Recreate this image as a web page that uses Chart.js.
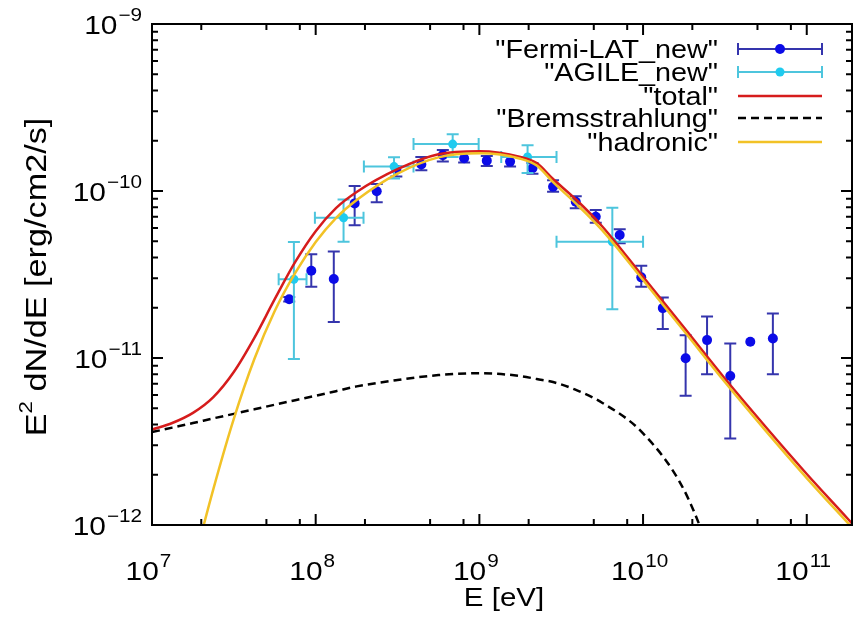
<!DOCTYPE html>
<html>
<head>
<meta charset="utf-8">
<title>SED</title>
<script src="https://cdn.jsdelivr.net/npm/chart.js@4.4.0/dist/chart.umd.min.js"></script>
<style>
  html, body { margin: 0; padding: 0; background: #fff; }
</style>
</head>
<body>
<canvas id="sed" width="857" height="619"></canvas>
<script>
// Fermi-LAT points (vertical error bars only)
const fermiE  = [6.89e7, 9.4e7, 1.29e8, 1.73e8, 2.36e8, 3.11e8, 4.42e8, 5.98e8, 8.07e8, 1.11e9, 1.54e9, 2.11e9,
                 2.82e9, 3.88e9, 5.14e9, 7.2e9, 9.75e9, 1.32e10, 1.82e10, 2.46e10, 3.41e10, 4.52e10, 6.21e10];
const fermiF  = [2.25e-11, 3.33e-11, 2.97e-11, 8.43e-11, 9.96e-11, 1.34e-10, 1.44e-10, 1.64e-10, 1.57e-10, 1.52e-10, 1.50e-10, 1.37e-10,
                 1.06e-10, 8.63e-11, 7.02e-11, 5.45e-11, 3.04e-11, 1.99e-11, 9.96e-12, 1.28e-11, 7.8e-12, 1.25e-11, 1.31e-11];
const fermiLo = [2.18e-11, 2.67e-11, 1.64e-11, 6.24e-11, 8.55e-11, 1.22e-10, 1.33e-10, 1.50e-10, 1.48e-10, 1.41e-10, 1.40e-10, 1.27e-10,
                 9.9e-11, 7.87e-11, 6.45e-11, 4.86e-11, 2.67e-11, 1.49e-11, 5.94e-12, 7.98e-12, 3.3e-12, null, 8.0e-12];
const fermiHi = [2.32e-11, 4.18e-11, 4.34e-11, 1.07e-10, 1.10e-10, 1.40e-10, 1.60e-10, 1.76e-10, 1.68e-10, 1.62e-10, 1.62e-10, 1.47e-10,
                 1.16e-10, 9.3e-11, 7.69e-11, 5.9e-11, 3.57e-11, 2.3e-11, 1.37e-11, 1.77e-11, 1.22e-11, null, 1.85e-11];

// AGILE points (x and y error bars)
const agileE   = [7.36e7, 1.48e8, 3.01e8, 6.87e8, 1.97e9, 6.49e9];
const agileF   = [2.96e-11, 6.92e-11, 1.40e-10, 1.91e-10, 1.60e-10, 4.97e-11];
const agileElo = [5.94e7, 9.89e7, 1.97e8, 3.96e8, 1.36e9, 2.96e9];
const agileEhi = [8.79e7, 1.96e8, 3.96e8, 9.9e8, 2.96e9, 1.0e10];
const agileFlo = [9.86e-12, 4.97e-11, 1.19e-10, 1.6e-10, 1.28e-10, 1.96e-11];
const agileFhi = [4.95e-11, 8.9e-11, 1.59e-10, 2.19e-10, 1.88e-10, 7.94e-11];

// model curves, sampled on one energy grid
const modelE = [1.0e7, 1.33e7, 1.78e7, 2.37e7, 3.16e7, 4.22e7, 5.62e7, 7.5e7, 1.0e8, 1.33e8, 1.78e8, 3.16e8, 5.62e8,
                1.0e9, 1.78e9, 2.24e9, 2.82e9, 3.98e9, 5.62e9, 1.0e10, 1.78e10, 3.16e10, 5.62e10, 1.0e11, 1.78e11, 2.0e11];
const total  = [3.73e-12, 4.08e-12, 4.69e-12, 5.83e-12, 8.24e-12, 1.32e-11, 2.25e-11, 3.76e-11, 5.75e-11, 7.9e-11, 9.86e-11, 1.35e-10, 1.66e-10,
                1.73e-10, 1.60e-10, 1.47e-10, 1.18e-10, 8.71e-11, 6.15e-11, 3.06e-11, 1.52e-11, 7.53e-12, 3.86e-12, 2.02e-12, 1.09e-12, 9.6e-13];
const brems  = [3.6e-12, 3.83e-12, 4.08e-12, 4.35e-12, 4.63e-12, 4.93e-12, 5.25e-12, 5.59e-12, 5.94e-12, 6.33e-12, 6.76e-12, 7.38e-12, 7.9e-12,
                8.1e-12, 7.8e-12, 7.48e-12, 7.18e-12, 6.38e-12, 5.4e-12, 3.54e-12, 1.62e-12, 4.0e-13, null, null, null, null];
const hadron = [null, null, 5.68e-13, 1.64e-12, 4.32e-12, 9.86e-12, 1.91e-11, 3.23e-11, 4.95e-11, 6.89e-11, 8.83e-11, 1.27e-10, 1.59e-10,
                1.68e-10, 1.56e-10, 1.42e-10, 1.13e-10, 8.24e-11, 5.83e-11, 2.93e-11, 1.45e-11, 7.18e-12, 3.66e-12, 1.91e-12, 1.03e-12, 9.1e-13];

// axis ticks (powers of ten)
const xExps = [7, 8, 9, 10, 11];
const yExps = [-12, -11, -10, -9];
const xMinor = [2, 5, 8];
const yMinor = [2, 3, 4, 5, 6, 7, 8, 9];

const FERMI_BAR = '#3535ad', FERMI_PT = '#0b0be8';
const AGILE_BAR = '#4dc5dd', AGILE_PT = '#1fcbef';
const RED = '#d61c1c', YELLOW = '#f2c226', BLACK = '#000';
const FONT = '"Liberation Sans", Arial, sans-serif';
const SX = 1.15; // text is a bit wide in the original

const pts = (xs, ys) => xs.map((x, i) => ({ x, y: ys[i] })).filter(p => p.y !== null);

function text(ctx, s, x, y, align, sx = SX) {
  ctx.save();
  ctx.translate(x, y);
  ctx.scale(sx, 1);
  ctx.textAlign = align;
  ctx.fillText(s, 0, 0);
  ctx.restore();
}

function pow10(ctx, exp, x, y, align) {
  const e = String(exp).replace('-', '\u2212');
  ctx.font = '26px ' + FONT;
  const w1 = ctx.measureText('10').width * SX;
  ctx.font = '18px ' + FONT;
  const w2 = ctx.measureText(e).width * SX;
  let x0 = align === 'center' ? x - (w1 + w2) / 2 - 4 : x - w1 - w2;
  ctx.font = '26px ' + FONT;
  text(ctx, '10', x0, y, 'left');
  ctx.font = '18px ' + FONT;
  text(ctx, e, x0 + w1 + 1, y - 13, 'left');
}

function capV(ctx, x, y, h) { ctx.moveTo(x - h, y); ctx.lineTo(x + h, y); }
function capH(ctx, x, y, h) { ctx.moveTo(x, y - h); ctx.lineTo(x, y + h); }

const decor = {
  id: 'decor',
  beforeDatasetDraw(chart, args) {
    const { ctx, scales: { x, y } } = chart;
    ctx.save();
    ctx.lineWidth = 2;
    if (args.index === 0) {
      ctx.strokeStyle = FERMI_BAR;
      ctx.beginPath();
      fermiE.forEach((e, i) => {
        if (fermiLo[i] === null) return;
        const px = x.getPixelForValue(e);
        const y1 = y.getPixelForValue(fermiLo[i]), y2 = y.getPixelForValue(fermiHi[i]);
        ctx.moveTo(px, y1); ctx.lineTo(px, y2);
        capV(ctx, px, y1, 6); capV(ctx, px, y2, 6);
      });
      ctx.stroke();
    }
    if (args.index === 1) {
      ctx.strokeStyle = AGILE_BAR;
      ctx.beginPath();
      agileE.forEach((e, i) => {
        const px = x.getPixelForValue(e), py = y.getPixelForValue(agileF[i]);
        const x1 = x.getPixelForValue(agileElo[i]), x2 = x.getPixelForValue(agileEhi[i]);
        const y1 = y.getPixelForValue(agileFlo[i]), y2 = y.getPixelForValue(agileFhi[i]);
        ctx.moveTo(px, y1); ctx.lineTo(px, y2);
        capV(ctx, px, y1, 6); capV(ctx, px, y2, 6);
        ctx.moveTo(x1, py); ctx.lineTo(x2, py);
        capH(ctx, x1, py, 6); capH(ctx, x2, py, 6);
      });
      ctx.stroke();
    }
    ctx.restore();
  },
  afterDraw(chart) {
    const { ctx, chartArea: a, scales: { x, y } } = chart;
    ctx.save();
    ctx.strokeStyle = BLACK;
    ctx.fillStyle = BLACK;
    ctx.lineWidth = 2;
    ctx.strokeRect(a.left, a.top, a.right - a.left, a.bottom - a.top);

    // ticks on all four sides, pointing inwards
    ctx.beginPath();
    xExps.forEach(d => {
      const px = x.getPixelForValue(Math.pow(10, d));
      if (px <= a.right) {
        ctx.moveTo(px, a.bottom); ctx.lineTo(px, a.bottom - 11);
        ctx.moveTo(px, a.top); ctx.lineTo(px, a.top + 11);
      }
      xMinor.forEach(m => {
        const qx = x.getPixelForValue(m * Math.pow(10, d));
        if (qx >= a.right) return;
        ctx.moveTo(qx, a.bottom); ctx.lineTo(qx, a.bottom - 6);
        ctx.moveTo(qx, a.top); ctx.lineTo(qx, a.top + 6);
      });
    });
    yExps.forEach(d => {
      const py = y.getPixelForValue(Math.pow(10, d));
      ctx.moveTo(a.left, py); ctx.lineTo(a.left + 11, py);
      ctx.moveTo(a.right, py); ctx.lineTo(a.right - 11, py);
      if (d === -9) return;
      yMinor.forEach(m => {
        const qy = y.getPixelForValue(m * Math.pow(10, d));
        ctx.moveTo(a.left, qy); ctx.lineTo(a.left + 6, qy);
        ctx.moveTo(a.right, qy); ctx.lineTo(a.right - 6, qy);
      });
    });
    ctx.stroke();

    // tick labels
    ctx.textBaseline = 'alphabetic';
    xExps.forEach(d => pow10(ctx, d, x.getPixelForValue(Math.pow(10, d)), a.bottom + 55, 'center'));
    yExps.forEach(d => pow10(ctx, d, 141, y.getPixelForValue(Math.pow(10, d)) + 10, 'right'));

    // axis titles
    ctx.font = '25px ' + FONT;
    text(ctx, 'E [eV]', 504, 606, 'center', 1.18);
    ctx.save();
    ctx.translate(46, 277);
    ctx.rotate(-Math.PI / 2);
    const ysx = 1.18;
    ctx.font = '29px ' + FONT;
    const wE = ctx.measureText('E').width * ysx;
    const rest = ' dN/dE [erg/cm2/s]';
    const wR = ctx.measureText(rest).width * ysx;
    ctx.font = '19px ' + FONT;
    const w2 = ctx.measureText('2').width * ysx;
    const x0 = -(wE + w2 + wR) / 2;
    ctx.font = '29px ' + FONT;
    text(ctx, 'E', x0, 0, 'left', ysx);
    text(ctx, rest, x0 + wE + w2, 0, 'left', ysx);
    ctx.font = '19px ' + FONT;
    text(ctx, '2', x0 + wE, -14, 'left', ysx);
    ctx.restore();

    // key
    const kx1 = 738, kx2 = 822, kc = 780, tx = 718;
    const rows = [49, 72, 96, 118, 142];
    const names = ['"Fermi-LAT_new"', '"AGILE_new"', '"total"', '"Bremsstrahlung"', '"hadronic"'];
    ctx.font = '25px ' + FONT;
    ctx.fillStyle = BLACK;
    names.forEach((n, i) => text(ctx, n, tx, rows[i] + 9, 'right'));

    [[FERMI_BAR, FERMI_PT, rows[0], 5], [AGILE_BAR, AGILE_PT, rows[1], 4.5]].forEach(([bar, pt, ky, r]) => {
      ctx.strokeStyle = bar;
      ctx.lineWidth = 2;
      ctx.beginPath();
      ctx.moveTo(kx1, ky); ctx.lineTo(kx2, ky);
      capH(ctx, kx1, ky, 6); capH(ctx, kx2, ky, 6);
      ctx.stroke();
      ctx.fillStyle = pt;
      ctx.beginPath();
      ctx.arc(kc, ky, r, 0, Math.PI * 2);
      ctx.fill();
    });
    const keyLine = (col, ky, dash) => {
      ctx.strokeStyle = col;
      ctx.lineWidth = 2.5;
      ctx.setLineDash(dash);
      ctx.beginPath();
      ctx.moveTo(kx1, ky); ctx.lineTo(kx2, ky);
      ctx.stroke();
      ctx.setLineDash([]);
    };
    keyLine(RED, rows[2], []);
    keyLine(BLACK, rows[3], [8, 5]);
    keyLine(YELLOW, rows[4], []);
    ctx.restore();
  }
};

new Chart(document.getElementById('sed'), {
  type: 'scatter',
  data: {
    datasets: [
      { label: 'Fermi-LAT_new', data: pts(fermiE, fermiF), pointRadius: 5, pointBackgroundColor: FERMI_PT, pointBorderWidth: 0, order: 5 },
      { label: 'AGILE_new', data: pts(agileE, agileF), pointRadius: 4.5, pointBackgroundColor: AGILE_PT, pointBorderWidth: 0, order: 4 },
      { label: 'total', data: pts(modelE, total), showLine: true, pointRadius: 0, borderColor: RED, borderWidth: 2.5,
        cubicInterpolationMode: 'monotone', order: 3 },
      { label: 'Bremsstrahlung', data: pts(modelE, brems), showLine: true, pointRadius: 0, borderColor: BLACK, borderWidth: 2.5,
        borderDash: [8, 5], cubicInterpolationMode: 'monotone', order: 2 },
      { label: 'hadronic', data: pts(modelE, hadron), showLine: true, pointRadius: 0, borderColor: YELLOW, borderWidth: 2.5,
        cubicInterpolationMode: 'monotone', order: 1 }
    ]
  },
  options: {
    responsive: false,
    animation: false,
    devicePixelRatio: 1,
    layout: { padding: { left: 152, right: 3, top: 24, bottom: 94 } },
    plugins: { legend: { display: false }, tooltip: { enabled: false } },
    scales: {
      x: { type: 'logarithmic', min: 1e7, max: 1.89e11, display: false },
      y: { type: 'logarithmic', min: 1e-12, max: 1e-9, display: false }
    }
  },
  plugins: [decor]
});
</script>
</body>
</html>
